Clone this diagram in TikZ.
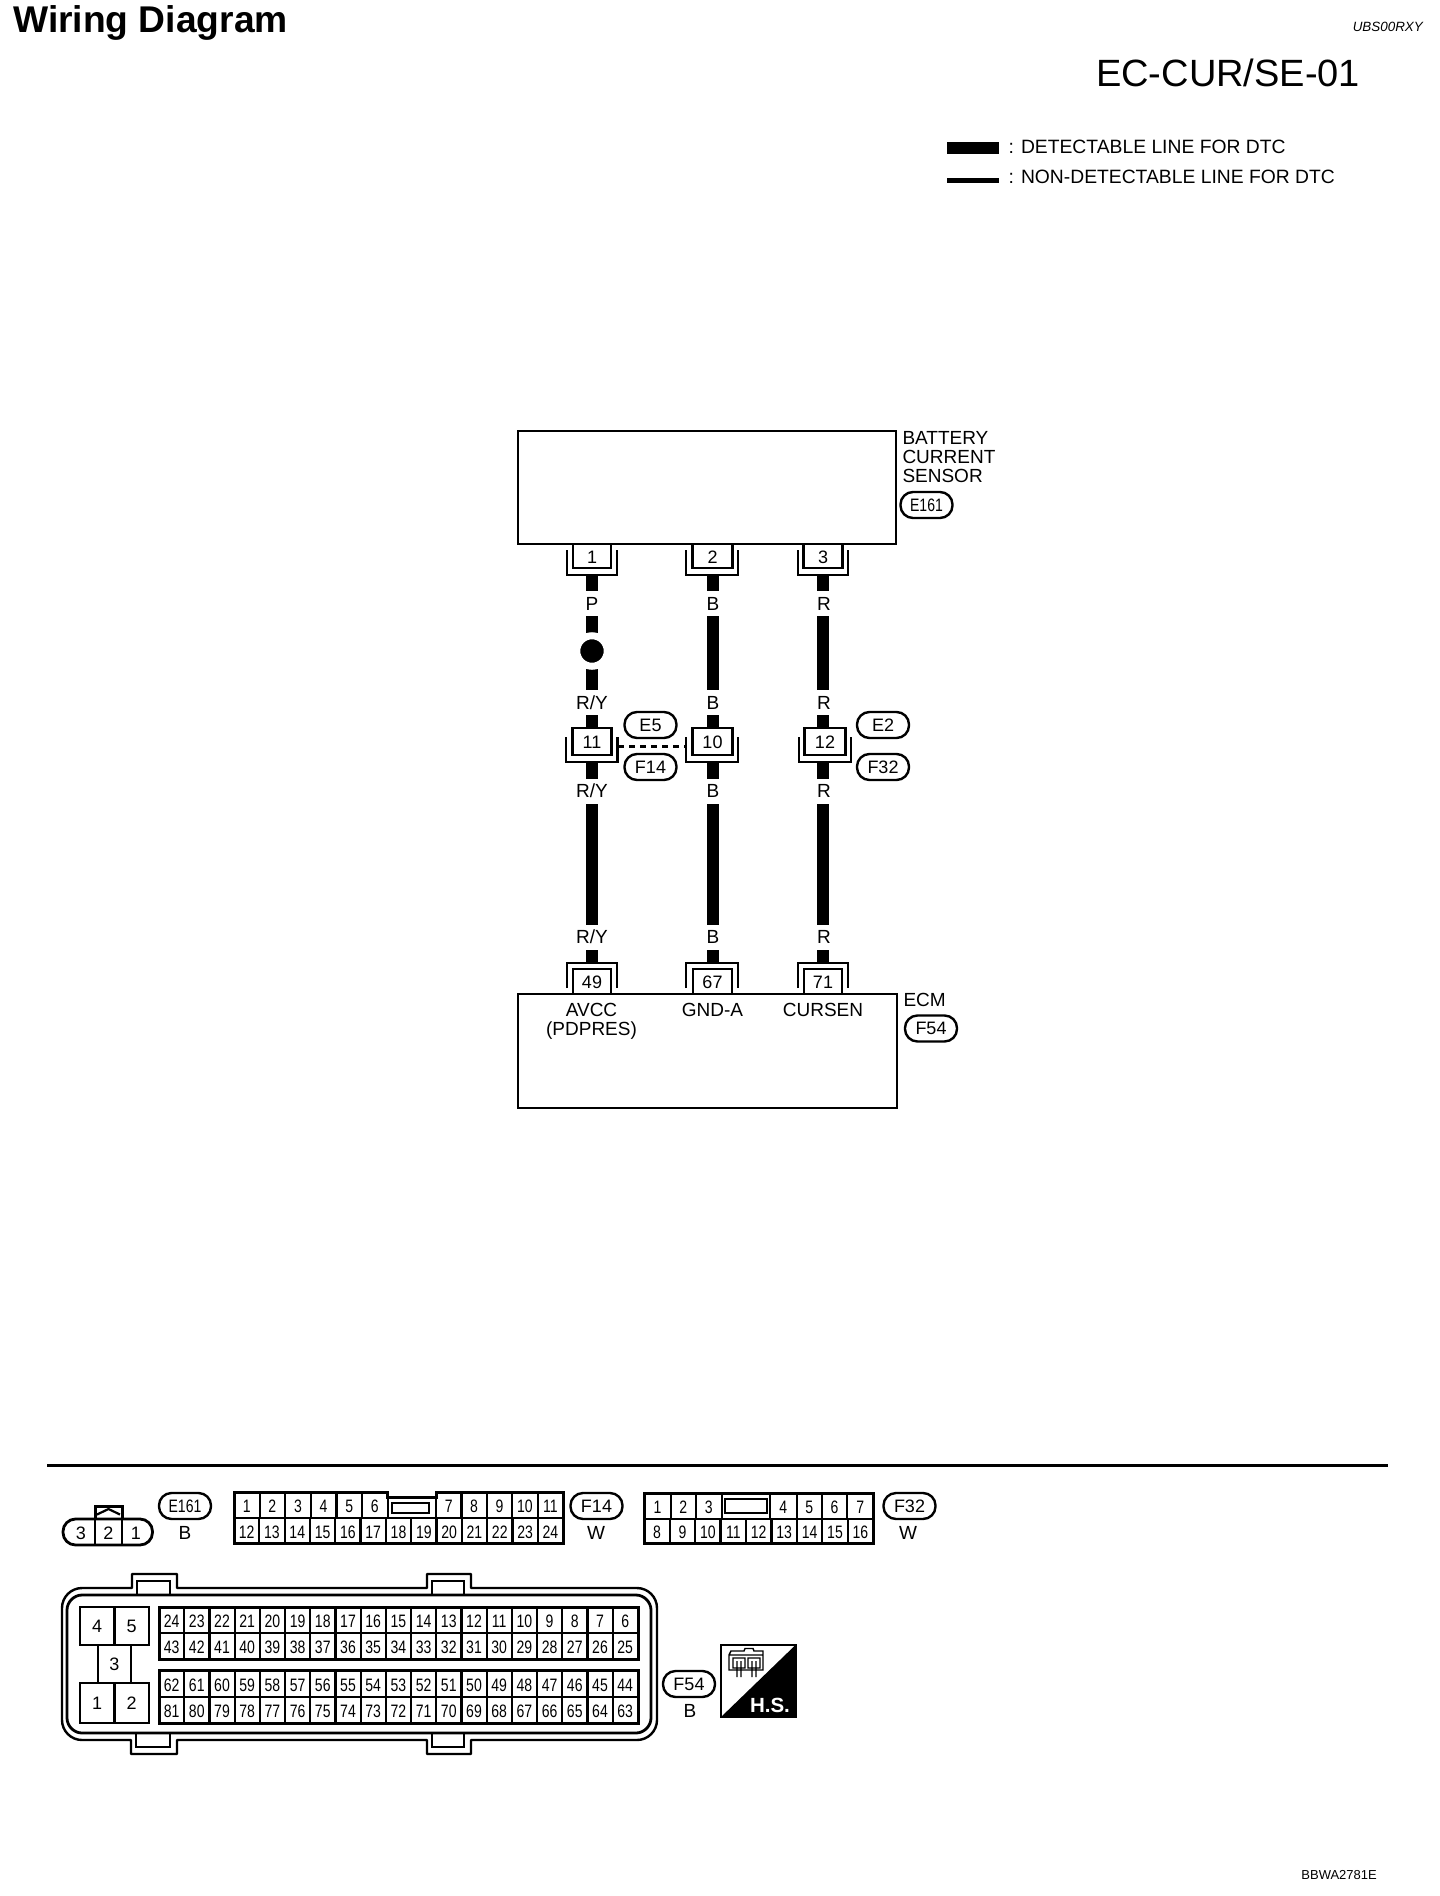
\documentclass[tikz,border=0pt]{standalone}
\usepackage{fontspec}
\setmainfont{Liberation Sans}
\newfontfamily\cond[FakeStretch=0.78]{Liberation Sans}
\usetikzlibrary{backgrounds,calc}
\newcommand{\fsz}[1]{\fontsize{#1}{#1}\selectfont}
\newcommand{\ubr}[4]{\fill[white] (#1,#3) rectangle (#2,#4); \draw[bracket] (#1,#3) -- (#1,#4) -- (#2,#4) -- (#2,#3);}
\newcommand{\nbr}[4]{\fill[white] (#1,#3) rectangle (#2,#4); \draw[bracket] (#1,#4) -- (#1,#3) -- (#2,#3) -- (#2,#4);}
\tikzset{
  fs/.style={font=\fsz{#1},text height={0.72*#1pt},text depth=0pt},
  fsc/.style={font=\cond\fsz{#1},text height={0.72*#1pt},text depth=0pt},
  fsb/.style={font=\bfseries\fsz{#1},text height={0.72*#1pt},text depth=0pt},
  fsi/.style={font=\itshape\fsz{#1},text height={0.72*#1pt},text depth=0pt},
  txt/.style={inner sep=0pt,outer sep=0pt,fs=19},
  ltxt/.style={txt,anchor=west},
  wlabel/.style={txt,fill=white,minimum height=25,inner xsep=1pt},
  unit/.style={draw,line width=2.6,inner sep=0pt,outer sep=0pt},
  pinbox/.style={draw,line width=2.3,fill=white,inner sep=0pt,outer sep=0pt,fs=18,text height=14.5pt},
  bracket/.style={line width=2.1,line join=miter},
  wire/.style={line width=12,line cap=butt},
  pill/.style={draw,line width=2.4,rounded corners=12.5,minimum width=52,minimum height=26,inner sep=0pt,outer sep=0pt,fs=18},
  cellbox/.style={draw,line width=2.2,inner sep=0pt,outer sep=0pt,fsc=18,text height=15pt},
  thickline/.style={line width=3,line join=miter},
  shell/.style={line width=2.4,line join=round}
}
\begin{document}
\begin{tikzpicture}[x=1pt,y=-1pt]
\useasboundingbox (0,0) rectangle (1440,1896);
% header
\node[anchor=west,inner sep=0pt,fsb=37.2] (title) at (13,19) {Wiring Diagram};
\node[anchor=east,inner sep=0pt,fsi=13.4] (code) at (1423,27) {UBS00RXY};
\node[anchor=west,inner sep=0pt,fs=38] (page) at (1096,73) {EC-CUR/SE-01};
\fill (947,142) rectangle (999,154);
\fill (947,178) rectangle (999,183);
\node[ltxt,fs=19.3] (leg1) at (1008.5,147) {: DETECTABLE LINE FOR DTC};
\node[ltxt,fs=19.3] (leg2) at (1008.5,177) {: NON-DETECTABLE LINE FOR DTC};

% units
\node[unit,minimum width=378,minimum height=113] (sensor) at (707,487.5) {};
\node[unit,minimum width=379,minimum height=114] (ecm) at (707.5,1051) {};
\node[ltxt] (bat) at (902.5,438) {BATTERY};
\node[ltxt] (cur) at (902.5,457) {CURRENT};
\node[ltxt] (sen) at (902.5,476) {SENSOR};
\node[pill,fsc=18] (pE161) at (926.5,505) {E161};
\node[ltxt] (ecmt) at (903.5,1000) {ECM};
\node[pill] (pF54) at (931,1028.5) {F54};
\node[txt] (avcc) at (591.5,1010) {AVCC};
\node[txt] (pdp) at (591.5,1029) {(PDPRES)};
\node[txt] (gnd) at (712.5,1010) {GND-A};
\node[txt] (crs) at (823,1010) {CURSEN};

% connectors, sensor side
\ubr{567}{617}{550}{575}
\ubr{686}{738}{550}{575}
\ubr{798}{848}{550}{575}
\node[pinbox,minimum width=38,minimum height=24] (p1) at (592,556) {1};
\node[pinbox,minimum width=40,minimum height=24] (p2) at (712.5,556) {2};
\node[pinbox,minimum width=39,minimum height=24] (p3) at (823,556) {3};
% in-line connectors
\ubr{566}{617.5}{737}{762}
\ubr{686}{738}{737}{762}
\ubr{799}{851}{737}{762}
\node[pinbox,minimum width=39,minimum height=27] (m11) at (592,741.5) {11};
\node[pinbox,minimum width=40,minimum height=27] (m10) at (712.5,741.5) {10};
\node[pinbox,minimum width=41,minimum height=27] (m12) at (825,741.5) {12};
\node[pill] (pE5) at (650.5,725) {E5};
\node[pill] (pF14) at (650.5,767) {F14};
\node[pill] (pE2) at (883,725) {E2};
\node[pill] (pF32) at (883,767) {F32};
\draw[line width=3,dash pattern=on 6pt off 5pt] ([xshift=6.5pt,yshift=-4.5pt]m11.east) -- ([xshift=-7.5pt,yshift=-4.5pt]m10.west);
% connectors, ECM side
\nbr{567}{617}{963}{988}
\nbr{686}{738}{963}{988}
\nbr{798}{848}{963}{988}
\node[pinbox,minimum width=38,minimum height=25] (e49) at (592,981.5) {49};
\node[pinbox,minimum width=39,minimum height=25] (e67) at (712.5,981.5) {67};
\node[pinbox,minimum width=38,minimum height=25] (e71) at (823,981.5) {71};

% splice
\node[circle,fill=black,draw=white,line width=7,minimum size=30.5,inner sep=0pt,outer sep=0pt] (dot) at (592,651) {};

% wires
\begin{pgfonlayer}{background}
\fill[white] (0,0) rectangle (1440,1896);
\draw[wire] (p1.south) -- (dot.center);
\draw[wire] (dot.center) -- (m11.north);
\draw[wire] (m11.south) -- (e49.north);
\draw[wire] (p2.south) -- (m10.north);
\draw[wire] (m10.south) -- (e67.north);
\draw[wire,line width=11.5] (p3.south) -- (p3.south |- m12.north);
\draw[wire,line width=11.5] (p3.south |- m12.south) -- (e71.north);
\end{pgfonlayer}

% wire labels
\node[wlabel] (l1) at (592,603.5) {P};
\node[wlabel] (l2) at (713,603.5) {B};
\node[wlabel] (l3) at (824,603.5) {R};
\node[wlabel] (l4) at (592,702.5) {R/Y};
\node[wlabel] (l5) at (713,702.5) {B};
\node[wlabel] (l6) at (824,702.5) {R};
\node[wlabel] (l7) at (592,791) {R/Y};
\node[wlabel] (l8) at (713,791) {B};
\node[wlabel] (l9) at (824,791) {R};
\node[wlabel] (l10) at (592,937) {R/Y};
\node[wlabel] (l11) at (713,937) {B};
\node[wlabel] (l12) at (824,937) {R};

% divider
\draw[line width=2.7] (47,1465.5) -- (1388,1465.5);

% E161 connector
\draw[thickline] (95,1519) -- (95,1506) -- (122,1506) -- (122,1519);
\draw[line width=2.2] (97,1514.5) -- (108.5,1509) -- (120,1514.5);
\draw[line width=2.8,rounded corners=12.5] (63,1519) rectangle (152.5,1545);
\draw[line width=2.4] (95,1519) -- (95,1545) (122,1519) -- (122,1545);
\node[txt,fs=18] (c3) at (81,1533) {3};
\node[txt,fs=18] (c2) at (108.5,1533) {2};
\node[txt,fs=18] (c1) at (136,1533) {1};
\node[pill,fsc=18] (cE161) at (185,1506) {E161};
\node[txt] (cB) at (185,1533) {B};

% F14 connector
\foreach \n [count=\k from 0] in {1,...,6}
  \node[cellbox,minimum width=25.6,minimum height=26] (f\n) at ({234+25.6*(\k+.5)},1505) {\n};
\foreach \n [count=\k from 0] in {7,...,11}
  \node[cellbox,minimum width=25.4,minimum height=26] (f\n) at ({436+25.4*(\k+.5)},1505) {\n};
\foreach \n [count=\k from 0] in {12,...,24}
  \node[cellbox,minimum width=25.31,minimum height=25] (f\n) at ({234+25.31*(\k+.5)},1530.5) {\n};
\draw[thickline] (234,1492) -- (387.5,1492) -- (387.5,1497) -- (436,1497) -- (436,1492) -- (563,1492) -- (563,1543) -- (234,1543) -- cycle;
\draw[line width=2.4] (392,1503) rectangle (429,1513);
\node[pill] (cF14) at (596.5,1506) {F14};
\node[txt] (cW1) at (596,1533) {W};

% F32 connector
\foreach \n/\xl/\xr in {1/644.3/670.7,2/670.7/696,3/696/721.7,4/770/796.7,5/796.7/821.7,6/821.7/847.3,7/847.3/873}
  \node[cellbox,minimum width={\xr-\xl},minimum height=26] (g\n) at ({(\xl+\xr)/2},1506) {\n};
\foreach \n [count=\k from 0] in {8,...,16}
  \node[cellbox,minimum width=25.43,minimum height=24] (g\n) at ({644.3+25.43*(\k+.5)},1531) {\n};
\draw[thickline] (644.3,1493) rectangle (873,1543);
\draw[line width=2.6] (725,1499) rectangle (767,1513);
\node[pill] (cF32) at (909.5,1506) {F32};
\node[txt] (cW2) at (908,1533) {W};

% F54 connector shell
\draw[shell] (177,1588) -- (427,1588) -- (427,1574) -- (471,1574) -- (471,1588) -- (637,1588)
  .. controls (648,1588) and (657,1597) .. (657,1608) -- (657,1720)
  .. controls (657,1731) and (648,1740) .. (637,1740) -- (471,1740) -- (471,1754) -- (427,1754) -- (427,1740)
  -- (177,1740) -- (177,1754) -- (131,1754) -- (131,1740) -- (82,1740)
  .. controls (71,1740) and (62,1731) .. (62,1720) -- (62,1608)
  .. controls (62,1597) and (71,1588) .. (82,1588) -- (132,1588) -- (132,1574) -- (177,1574) -- cycle;
\draw[line width=2.8] (82,1595) -- (636,1595)
  .. controls (644,1595) and (651,1602) .. (651,1610) -- (651,1718)
  .. controls (651,1726) and (644,1733) .. (636,1733) -- (82,1733)
  .. controls (74,1733) and (67,1726) .. (67,1718) -- (67,1610)
  .. controls (67,1602) and (74,1595) .. (82,1595) -- cycle;
\draw[line width=2.6] (137,1595) -- (137,1581) -- (170,1581) -- (170,1595);
\draw[line width=2.6] (432,1595) -- (432,1581) -- (464,1581) -- (464,1595);
\draw[line width=2.6] (136,1733) -- (136,1747) -- (170,1747) -- (170,1733);
\draw[line width=2.6] (432,1733) -- (432,1747) -- (464,1747) -- (464,1733);
% power terminals
\node[cellbox,line width=2.8,fs=18,minimum width=34.5,minimum height=38] (b4) at (97.25,1626) {4};
\node[cellbox,line width=2.8,fs=18,minimum width=34.5,minimum height=38] (b5) at (131.75,1626) {5};
\node[cellbox,line width=2.8,fs=18,minimum width=33,minimum height=38] (b3) at (114.5,1664) {3};
\node[cellbox,line width=2.8,fs=18,minimum width=34.5,minimum height=40] (b1) at (97.25,1703) {1};
\node[cellbox,line width=2.8,fs=18,minimum width=34.5,minimum height=40] (b2) at (131.75,1703) {2};
% pin grid
\foreach \n [count=\k from 0] in {24,23,...,6}
  \node[cellbox,minimum width=25.2,minimum height=26] (r\n) at ({159+25.2*(\k+.5)},1620) {\n};
\foreach \n [count=\k from 0] in {43,42,...,25}
  \node[cellbox,minimum width=25.2,minimum height=26] (r\n) at ({159+25.2*(\k+.5)},1646) {\n};
\foreach \n [count=\k from 0] in {62,61,...,44}
  \node[cellbox,minimum width=25.2,minimum height=27] (r\n) at ({159+25.2*(\k+.5)},1683.5) {\n};
\foreach \n [count=\k from 0] in {81,80,...,63}
  \node[cellbox,minimum width=25.2,minimum height=26] (r\n) at ({159+25.2*(\k+.5)},1710) {\n};
\draw[thickline] (159,1607) rectangle (638,1659);
\draw[thickline] (159,1670) rectangle (638,1723);
\node[pill] (cF54) at (689,1684) {F54};
\node[txt] (cB2) at (690,1711) {B};

% H.S. symbol
\fill (795.5,1645) -- (795.5,1717) -- (721,1717) -- cycle;
\draw[line width=2.6] (721,1645) rectangle (795.5,1717);
\draw[line width=1.4] (729,1655) -- (731,1651) -- (744,1651) -- (745,1648.5) -- (753,1648.5) -- (754,1651) -- (763,1651) -- (763,1668)
  (729,1655) -- (729,1670) -- (763,1670) -- (763,1668)
  (729,1655) -- (763,1655)
  (733,1658) rectangle (745,1668) (748,1658) rectangle (760,1668)
  (737,1661) -- (737,1677) (741,1661) -- (741,1677) (752,1661) -- (752,1677) (756,1661) -- (756,1677);
\node[txt,fsb=20.5,text=white] (hs) at (770,1705) {H.S.};

% footer
\node[anchor=east,inner sep=0pt,fs=13] (foot) at (1377,1875) {BBWA2781E};
\end{tikzpicture}
\end{document}
